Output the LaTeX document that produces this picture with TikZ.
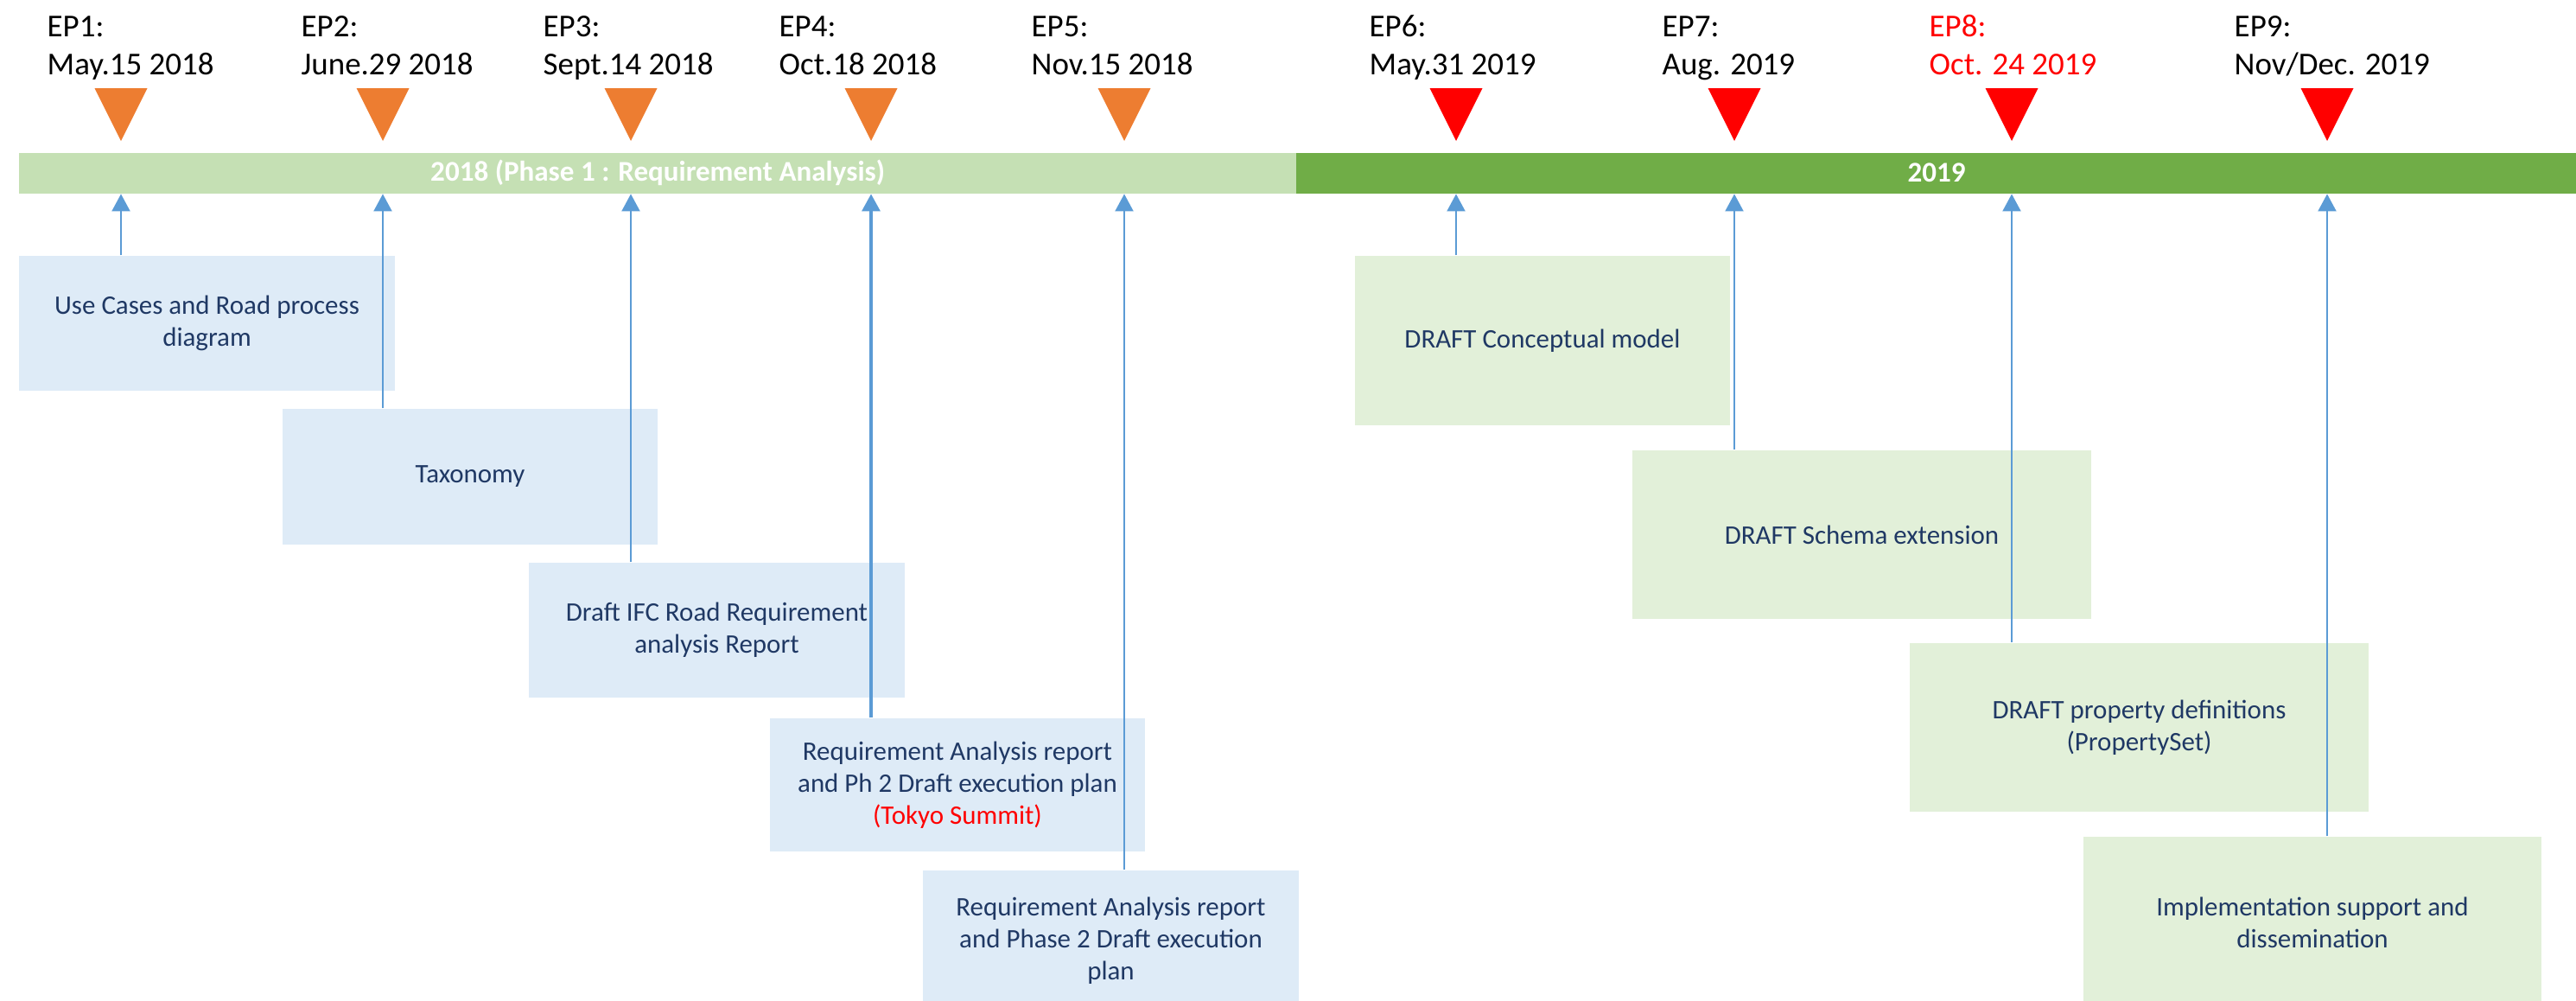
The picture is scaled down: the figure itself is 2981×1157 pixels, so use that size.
\documentclass[tikz,border=0pt]{standalone}
\usepackage{fontspec}
\setmainfont{Carlito}
\usetikzlibrary{arrows.meta}
\definecolor{barlight}{HTML}{C5E0B4}
\definecolor{bardark}{HTML}{70AD47}
\definecolor{epor}{HTML}{ED7D31}
\definecolor{epred}{HTML}{FF0000}
\definecolor{boxblue}{HTML}{DEEBF7}
\definecolor{boxgreen}{HTML}{E2F0D9}
\definecolor{boxtext}{HTML}{1F3864}
\definecolor{conncol}{HTML}{5B9BD5}
\begin{document}
\begin{tikzpicture}[x=0.01cm,y=-0.01cm,
  eplabel/.style={anchor=base west,inner sep=0pt,font=\fontsize{10.5}{12.6}\selectfont},
  barbox/.style={anchor=north west,inner sep=0pt,minimum height=0.47cm,text=white,font=\fontsize{9.4}{11}\selectfont\bfseries},
  tribox/.style={rectangle,inner sep=0pt,align=center,text=boxtext,font=\fontsize{8.8}{10.5}\selectfont},
  bluebox/.style={tribox,fill=boxblue},
  greenbox/.style={tribox,fill=boxgreen},
  conn/.style={draw=conncol,line width=0.6pt,-{Triangle[width=0.21cm,length=0.2cm]}},
  thickconn/.style={conn,line width=0.95pt}
]
\useasboundingbox (0,0) rectangle (2981,1157);

% timeline bar
\node[barbox,fill=barlight,minimum width=14.78cm] (bar1) at (21,176) {2018 (Phase 1 : Requirement Analysis)};
\node[barbox,fill=bardark,minimum width=14.82cm] (bar2) at (1499,176) {2019};

% tick positions (triangle tips)
\coordinate (t1) at (140,163);
\coordinate (t2) at (443,163);
\coordinate (t3) at (730,163);
\coordinate (t4) at (1008,163);
\coordinate (t5) at (1301,163);
\coordinate (t6) at (1685,163);
\coordinate (t7) at (2007,163);
\coordinate (t8) at (2328,163);
\coordinate (t9) at (2693,163);

% triangles
\foreach \t in {t1,t2,t3,t4,t5}
  \fill[epor] (\t) -- ++(-30.5,-61) -- ++(61,0) -- cycle;
\foreach \t in {t6,t7,t8,t9}
  \fill[epred] (\t) -- ++(-30.5,-61) -- ++(61,0) -- cycle;

% labels
\node[eplabel] (ep1) at (54,42) {EP1:};
\node[eplabel] (d1) at (54,86) {May.15 2018};
\node[eplabel] (ep2) at (348,42) {EP2:};
\node[eplabel] (d2) at (348,86) {June.29 2018};
\node[eplabel] (ep3) at (628,42) {EP3:};
\node[eplabel] (d3) at (628,86) {Sept.14 2018};
\node[eplabel] (ep4) at (901,42) {EP4:};
\node[eplabel] (d4) at (901,86) {Oct.18 2018};
\node[eplabel] (ep5) at (1193,42) {EP5:};
\node[eplabel] (d5) at (1193,86) {Nov.15 2018};
\node[eplabel] (ep6) at (1584,42) {EP6:};
\node[eplabel] (d6) at (1584,86) {May.31 2019};
\node[eplabel] (ep7) at (1923,42) {EP7:};
\node[eplabel] (d7) at (1923,86) {Aug. 2019};
\node[eplabel,text=epred] (ep8) at (2232,42) {EP8:};
\node[eplabel,text=epred] (d8) at (2232,86) {Oct. 24 2019};
\node[eplabel] (ep9) at (2585,42) {EP9:};
\node[eplabel] (d9) at (2585,86) {Nov/Dec. 2019};

% boxes
\node[bluebox,minimum width=4.35cm,minimum height=1.56cm] (b1) at (239.5,374) {Use Cases and Road process\\diagram};
\node[bluebox,minimum width=4.34cm,minimum height=1.57cm] (b2) at (544,551.5) {Taxonomy};
\node[bluebox,minimum width=4.35cm,minimum height=1.56cm] (b3) at (829.5,729) {Draft IFC Road Requirement\\analysis Report};
\node[bluebox,minimum width=4.34cm,minimum height=1.54cm] (b4) at (1108,908) {Requirement Analysis report\\and Ph 2 Draft execution plan\\\textcolor{epred}{(Tokyo Summit)}};
\node[bluebox,minimum width=4.35cm,minimum height=1.62cm] (b5) at (1285.5,1088) {Requirement Analysis report\\and Phase 2 Draft execution\\plan};
\node[greenbox,minimum width=4.34cm,minimum height=1.96cm] (b6) at (1785,394) {DRAFT Conceptual model};
\node[greenbox,minimum width=5.31cm,minimum height=1.95cm] (b7) at (2154.5,618.5) {DRAFT Schema extension};
\node[greenbox,minimum width=5.31cm,minimum height=1.95cm] (b8) at (2475.5,841.5) {DRAFT property definitions\\(PropertySet)};
\node[greenbox,minimum width=5.30cm,minimum height=1.98cm] (b9) at (2676,1067) {Implementation support and\\dissemination};

% connectors
\draw[conn] (b1.north -| t1) -- (bar1.south -| t1);
\draw[conn] (b2.north -| t2) -- (bar1.south -| t2);
\draw[conn] (b3.north -| t3) -- (bar1.south -| t3);
\draw[thickconn] (b4.north -| t4) -- (bar1.south -| t4);
\draw[conn] (b5.north -| t5) -- (bar1.south -| t5);
\draw[conn] (b6.north -| t6) -- (bar2.south -| t6);
\draw[conn] (b7.north -| t7) -- (bar2.south -| t7);
\draw[conn] (b8.north -| t8) -- (bar2.south -| t8);
\draw[conn] (b9.north -| t9) -- (bar2.south -| t9);
\end{tikzpicture}
\end{document}
